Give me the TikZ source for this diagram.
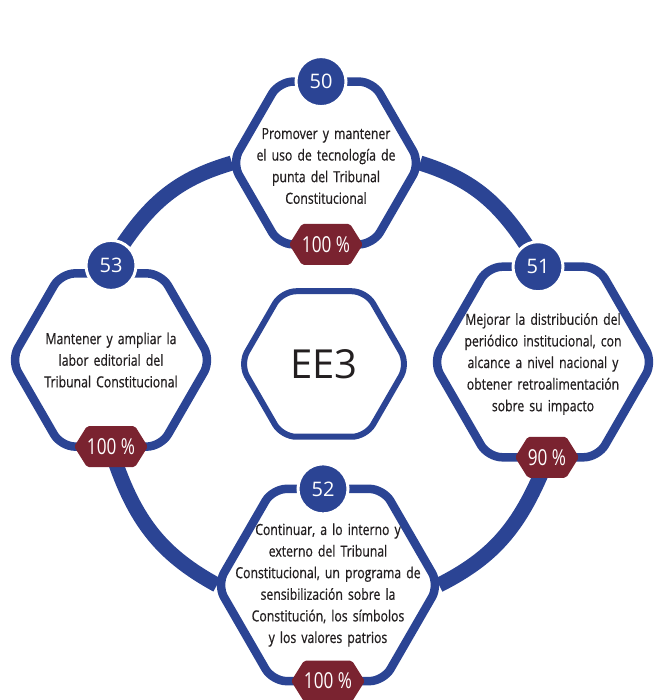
\documentclass[tikz,border=0pt]{standalone}
\usepackage{fontspec}
\setmainfont{Open Sans}
\newfontfamily\condfont[FakeStretch=0.8, FakeBold=0.6]{Open Sans}
\newfontfamily\pctfont[FakeStretch=0.78]{Open Sans}
\newcommand\goalfont{\condfont\fontsize{15.3}{21.6}\selectfont\spaceskip=2.8pt plus 1pt minus 0.5pt\relax}
\usetikzlibrary{shapes.geometric, shapes.symbols, positioning, calc, backgrounds}
\definecolor{ringblue}{HTML}{2B4494}
\definecolor{wine}{HTML}{7A2330}
\definecolor{ink}{HTML}{231F20}

\begin{document}
\begin{tikzpicture}[x=1pt, y=1pt,
    hexa/.style={regular polygon, regular polygon sides=6, draw=ringblue, line width=8.5pt, fill=white, rounded corners=14pt, inner sep=0pt, outer sep=0pt},
    goal/.style={text width=200pt, align=center, text=ink, font=\goalfont},
    num/.style={circle, fill=ringblue, draw=white, line width=3pt, minimum size=50pt, inner sep=0pt, text=white, font=\fontsize{20}{20}\selectfont},
    pct/.style={signal, signal to=west and east, signal pointer angle=116, fill=wine, minimum width=64pt, minimum height=41pt, inner sep=0pt, rounded corners=2pt, text=white, font=\pctfont\fontsize{22}{22}\selectfont},
    ring/.style={line width=15pt, draw=ringblue},
  ]
  \useasboundingbox (0,0) rectangle (657,700);

  % Centre
  \node[hexa, line width=6pt, minimum size=168pt, text=ink, font=\fontsize{40}{40}\selectfont] (ee3) at (324,336) {EE3};

  % Goal 50 (top)
  \node[hexa, minimum size=188pt] (h50) at (326,537) {};
  \node[goal] (t50) at ([yshift=-3pt]h50) {Promover y mantener\\el uso de tecnología de\\punta del Tribunal\\Constitucional};
  \node[num] (n50) at ([xshift=-5pt]h50.north) {50};
  \node[pct] (p50) at (h50.south) {100 \%};

  % Goal 51 (right)
  \node[hexa, minimum size=220pt] (h51) at (543,338) {};
  \node[goal] (t51) at ([yshift=-2pt]h51) {Mejorar la distribución del\\periódico institucional, con\\alcance a nivel nacional y\\obtener retroalimentación\\sobre su impacto};
  \node[num] (n51) at ([xshift=-5pt]h51.north) {51};
  \node[pct] (p51) at ([xshift=4pt]h51.south) {90 \%};

  % Goal 52 (bottom)
  \node[hexa, minimum size=222pt] (h52) at (328,115) {};
  \node[goal] (t52) at (h52) {Continuar, a lo interno y\\externo del Tribunal\\Constitucional, un programa de\\sensibilización sobre la\\Constitución, los símbolos\\y los valores patrios};
  \node[num] (n52) at ([xshift=-5pt]h52.north) {52};
  \node[pct] (p52) at (h52.south) {100 \%};

  % Goal 53 (left)
  \node[hexa, minimum size=200pt] (h53) at (111,340) {};
  \node[goal] (t53) at (h53) {Mantener y ampliar la\\labor editorial del\\Tribunal Constitucional};
  \node[num] (n53) at ([yshift=8pt]h53.north) {53};
  \node[pct] (p53) at (h53.south) {100 \%};

  % Ring between the goals
  \begin{scope}[on background layer]
    \draw[ring, shorten >=-6pt] (h50.west) to[bend right=20] (n53);
    \draw[ring, shorten >=-6pt] (h50.east) to[bend left=20] (n51);
    \draw[ring, shorten <=-6pt] (p51) to[bend left=20] (h52.east);
    \draw[ring, shorten <=-6pt] (p53) to[bend right=21] (h52.west);
  \end{scope}
\end{tikzpicture}
\end{document}
